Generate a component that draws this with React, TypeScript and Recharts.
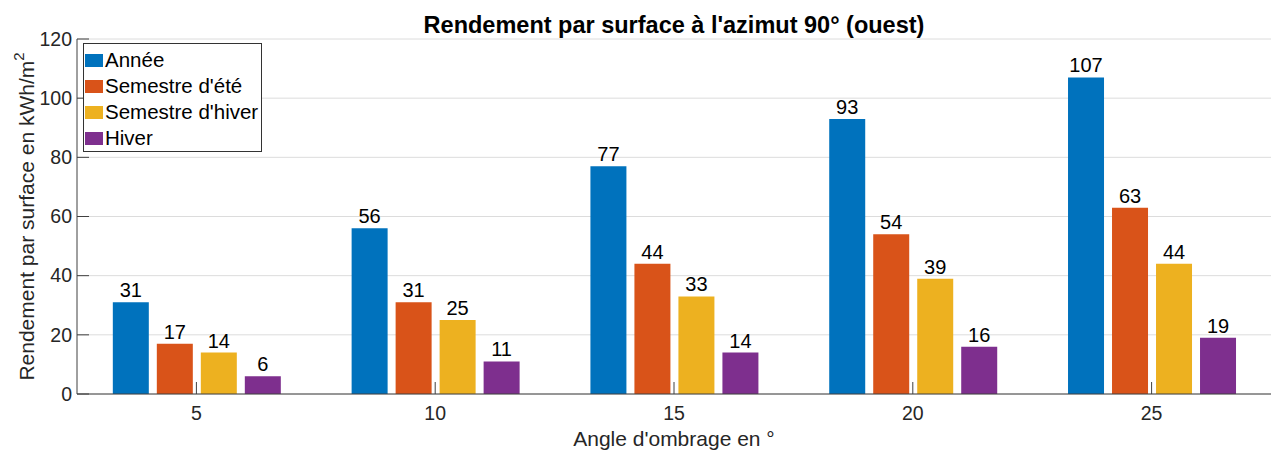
import { BarChart, Bar, XAxis, YAxis, CartesianGrid, Legend, LabelList } from "recharts";

const categories = [5, 10, 15, 20, 25];
const annee = [31, 56, 77, 93, 107];
const semestreEte = [17, 31, 44, 54, 63];
const semestreHiver = [14, 25, 33, 39, 44];
const hiver = [6, 11, 14, 16, 19];
const yTicks = [0, 20, 40, 60, 80, 100, 120];

const SERIES = [
  { key: "annee", name: "Année", color: "#0072BD" },
  { key: "ete", name: "Semestre d'été", color: "#D95319" },
  { key: "hiverSem", name: "Semestre d'hiver", color: "#EDB120" },
  { key: "hiver", name: "Hiver", color: "#7E2F8E" },
];

const data = categories.map((c, i) => ({
  angle: c,
  annee: annee[i],
  ete: semestreEte[i],
  hiverSem: semestreHiver[i],
  hiver: hiver[i],
}));

const FONT = "'Liberation Sans', Arial, sans-serif";
const AXIS = "#404040";
const TEXT = "#262626";

function XTick({ x, y, payload }: any) {
  return (
    <g>
      <line x1={x} y1={y} x2={x} y2={y - 12} stroke={AXIS} strokeWidth={1} />
      <text x={x} y={y + 26} textAnchor="middle" fontSize={19.5} fill={TEXT} fontFamily={FONT}>
        {payload.value}
      </text>
    </g>
  );
}

function YTick({ x, y, payload }: any) {
  return (
    <g>
      <line x1={x} y1={y} x2={x + 12} y2={y} stroke={AXIS} strokeWidth={1} />
      <text x={x - 5} y={y} dy="0.35em" textAnchor="end" fontSize={19.5} fill={TEXT} fontFamily={FONT}>
        {payload.value}
      </text>
    </g>
  );
}

export default function App() {
  return (
    <div style={{ position: "absolute", left: 0, top: 0, width: 1276, height: 452, background: "#fff" }}>
      <div
        style={{
          position: "absolute",
          left: 77,
          width: 1194,
          top: 13,
          textAlign: "center",
          fontFamily: FONT,
          fontWeight: "bold",
          fontSize: 23.5,
          color: "#000",
          lineHeight: "24px",
          whiteSpace: "nowrap",
        }}
      >
        Rendement par surface à l'azimut 90° (ouest)
      </div>
      <BarChart
        width={1276}
        height={452}
        data={data}
        margin={{ top: 39, right: 5, bottom: 0, left: 0 }}
        barCategoryGap="15%"
        barGap={8}
      >
        <CartesianGrid vertical={false} stroke="#dcdcdc" />
        <XAxis
          dataKey="angle"
          height={58}
          stroke={AXIS}
          tickLine={false}
          tickSize={0}
          tickMargin={0}
          tick={<XTick />}
          label={{
            content: ({ viewBox }: any) => (
              <text
                x={viewBox.x + viewBox.width / 2}
                y={viewBox.y + 52}
                textAnchor="middle"
                fontSize={21}
                fill={TEXT}
                fontFamily={FONT}
              >
                Angle d'ombrage en °
              </text>
            ),
          }}
        />
        <YAxis
          width={77}
          domain={[0, 120]}
          ticks={yTicks}
          stroke={AXIS}
          tickLine={false}
          tickSize={0}
          tickMargin={0}
          tick={<YTick />}
          label={{
            content: ({ viewBox }: any) => {
              const cx = viewBox.x + 26;
              const cy = viewBox.y + viewBox.height / 2;
              return (
                <text
                  x={cx}
                  y={cy}
                  transform={`rotate(-90 ${cx} ${cy})`}
                  textAnchor="middle"
                  dominantBaseline="central"
                  fontSize={21}
                  fill={TEXT}
                  fontFamily={FONT}
                >
                  Rendement par surface en kWh/m
                  <tspan dy={-8} fontSize={15}>2</tspan>
                </text>
              );
            },
          }}
        />
        <Legend
          layout="vertical"
          align="center"
          verticalAlign="middle"
          wrapperStyle={{ top: 43, left: 83, width: 179, height: 106 }}
          content={() => (
            <div
              style={{
                width: 177,
                height: 104,
                border: "1px solid #333",
                background: "#fff",
                fontFamily: FONT,
                fontSize: 20.5,
                color: "#000",
                paddingTop: 3,
                boxSizing: "content-box",
                whiteSpace: "nowrap",
              }}
            >
              {SERIES.map((s) => (
                <div key={s.key} style={{ display: "flex", alignItems: "center", height: 26 }}>
                  <span
                    style={{
                      display: "inline-block",
                      width: 18,
                      height: 13,
                      background: s.color,
                      marginLeft: 1,
                      marginRight: 2,
                    }}
                  />
                  <span>{s.name}</span>
                </div>
              ))}
            </div>
          )}
        />
        {SERIES.map((s) => (
          <Bar key={s.key} dataKey={s.key} name={s.name} fill={s.color} isAnimationActive={false}>
            <LabelList
              dataKey={s.key}
              position="top"
              offset={5}
              fill="#000"
              fontSize={20}
              fontFamily={FONT}
            />
          </Bar>
        ))}
      </BarChart>
    </div>
  );
}
